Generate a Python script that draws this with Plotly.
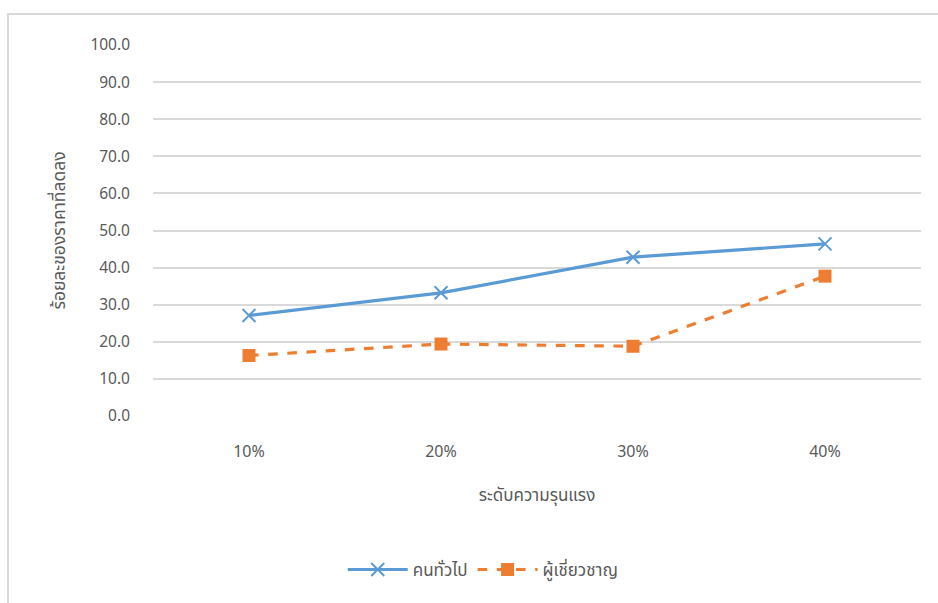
import plotly.graph_objects as go

levels = ["10%", "20%", "30%", "40%"]
general_public = [27.1, 33.2, 42.8, 46.4]
experts = [16.3, 19.4, 18.8, 37.7]
y_ticks = [0, 10, 20, 30, 40, 50, 60, 70, 80, 90, 100]

FONT = "Noto Sans, Noto Sans Thai, Tahoma, sans-serif"
TEXT = "#595959"

fig = go.Figure()
fig.add_trace(go.Scatter(
    x=levels, y=general_public, name="คนทั่วไป",
    mode="lines+markers",
    line=dict(color="#5B9BD5", width=3.2),
    marker=dict(symbol="x-thin", size=13, line=dict(color="#5B9BD5", width=2)),
))
fig.add_trace(go.Scatter(
    x=levels, y=experts, name="ผู้เชี่ยวชาญ",
    mode="lines+markers",
    line=dict(color="#ED7D31", width=3.2, dash="dash"),
    marker=dict(symbol="square", size=13, color="#ED7D31"),
))

fig.update_layout(
    width=938, height=603,
    margin=dict(l=153, r=17, t=45, b=187),
    paper_bgcolor="white", plot_bgcolor="white",
    font=dict(family=FONT, size=15, color=TEXT),
    showlegend=True,
    legend=dict(orientation="h", x=0.43, xanchor="center", y=-0.415, yanchor="middle",
                font=dict(size=17, color=TEXT), itemwidth=60),
    xaxis=dict(
        type="category", range=[-0.5, 3.5],
        showgrid=False, zeroline=False, showline=False, ticks="",
        ticklabelstandoff=24,
        tickfont=dict(size=16, color=TEXT),
        title=dict(text="ระดับความรุนแรง", font=dict(size=17, color=TEXT), standoff=28),
    ),
    yaxis=dict(
        range=[0, 100], tickvals=y_ticks,
        ticktext=[f"{v:.1f}" for v in y_ticks],
        showgrid=True, gridcolor="#d9d9d9", gridwidth=1.5,
        zeroline=False, showline=False, ticks="",
        ticklabelstandoff=22,
        tickfont=dict(size=15.5, color=TEXT),
        title=dict(text="ร้อยละของราคาที่ลดลง", font=dict(size=17.5, color=TEXT), standoff=20),
    ),
    shapes=[dict(
        type="rect", xref="paper", yref="paper",
        x0=-145 / 768, x1=1.1, y0=-0.6, y1=1 + 31 / 371,
        line=dict(color="#d9d9d9", width=2), fillcolor="rgba(0,0,0,0)", layer="below",
    )],
)

fig.write_html("out.html")
